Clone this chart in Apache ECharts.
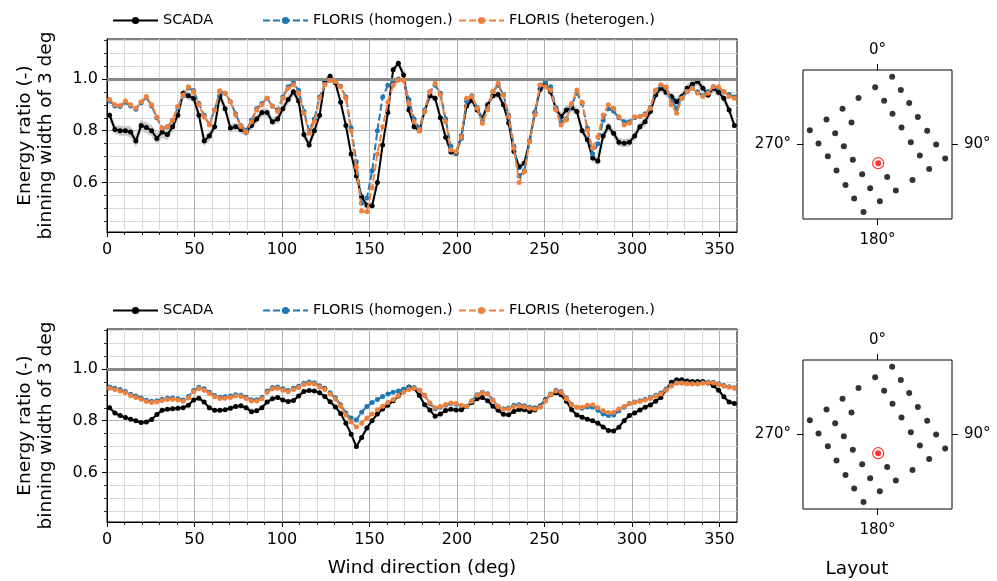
<!DOCTYPE html>
<html><head><meta charset="utf-8">
<script src="https://cdn.jsdelivr.net/npm/echarts@6/dist/echarts.min.js"></script>
<style>html,body{margin:0;padding:0;background:#fff}#c{width:997px;height:581px}</style>
</head><body><div id="c"></div>
<script>
// ---------------- data ----------------
const windDirections = [1.5,4.5,7.5,10.5,13.5,16.5,19.5,22.5,25.5,28.5,31.5,34.5,37.5,40.5,43.5,46.5,49.5,52.5,55.5,58.5,61.5,64.5,67.5,70.5,73.5,76.5,79.5,82.5,85.5,88.5,91.5,94.5,97.5,100.5,103.5,106.5,109.5,112.5,115.5,118.5,121.5,124.5,127.5,130.5,133.5,136.5,139.5,142.5,145.5,148.5,151.5,154.5,157.5,160.5,163.5,166.5,169.5,172.5,175.5,178.5,181.5,184.5,187.5,190.5,193.5,196.5,199.5,202.5,205.5,208.5,211.5,214.5,217.5,220.5,223.5,226.5,229.5,232.5,235.5,238.5,241.5,244.5,247.5,250.5,253.5,256.5,259.5,262.5,265.5,268.5,271.5,274.5,277.5,280.5,283.5,286.5,289.5,292.5,295.5,298.5,301.5,304.5,307.5,310.5,313.5,316.5,319.5,322.5,325.5,328.5,331.5,334.5,337.5,340.5,343.5,346.5,349.5,352.5,355.5,358.5];

const scadaTop = [0.86,0.805,0.80,0.80,0.795,0.76,0.82,0.812,0.80,0.77,
0.795,0.785,0.815,0.86,0.945,0.935,0.925,0.86,0.76,0.78,
0.815,0.935,0.885,0.81,0.815,0.805,0.795,0.82,0.845,0.87,
0.87,0.835,0.845,0.885,0.92,0.95,0.915,0.785,0.745,0.80,
0.86,0.99,1.01,0.985,0.91,0.82,0.71,0.625,0.545,0.512,
0.51,0.60,0.745,0.87,1.035,1.06,1.015,0.88,0.815,0.80,
0.875,0.935,0.925,0.85,0.775,0.718,0.713,0.78,0.895,0.918,
0.88,0.848,0.90,0.935,0.94,0.90,0.83,0.72,0.66,0.675,
0.76,0.87,0.96,0.977,0.95,0.885,0.854,0.88,0.889,0.874,
0.80,0.765,0.695,0.683,0.78,0.815,0.79,0.755,0.752,0.755,
0.78,0.815,0.835,0.874,0.938,0.964,0.948,0.932,0.912,0.932,
0.964,0.979,0.99,0.964,0.938,0.964,0.948,0.925,0.88,0.82];
const scadaTopSpread = [0.015,0.015,0.018,0.018,0.02,0.02,0.02,0.02,0.02,0.02,
0.02,0.02,0.018,0.015,0.015,0.015,0.015,0.015,0.018,0.018,
0.015,0.015,0.015,0.015,0.015,0.015,0.015,0.015,0.015,0.015,
0.015,0.015,0.015,0.015,0.015,0.015,0.015,0.015,0.015,0.015,
0.012,0.012,0.012,0.012,0.012,0.012,0.012,0.012,0.012,0.012,
0.012,0.012,0.012,0.012,0.012,0.012,0.012,0.012,0.012,0.012,
0.012,0.012,0.012,0.012,0.012,0.012,0.012,0.012,0.012,0.012,
0.012,0.012,0.012,0.012,0.012,0.012,0.012,0.012,0.012,0.012,
0.012,0.012,0.012,0.012,0.012,0.012,0.015,0.015,0.015,0.015,
0.015,0.015,0.015,0.015,0.015,0.015,0.015,0.015,0.015,0.015,
0.015,0.015,0.015,0.015,0.015,0.015,0.015,0.015,0.015,0.015,
0.015,0.015,0.015,0.015,0.015,0.015,0.015,0.015,0.015,0.015];
const florisHomTop = [0.915,0.895,0.893,0.91,0.895,0.883,0.908,0.928,0.895,0.85,
0.81,0.815,0.84,0.89,0.935,0.965,0.955,0.905,0.86,0.825,
0.88,0.95,0.945,0.912,0.865,0.82,0.80,0.84,0.885,0.905,
0.925,0.895,0.88,0.93,0.97,0.985,0.955,0.875,0.80,0.845,
0.93,0.98,0.995,0.99,0.972,0.93,0.81,0.68,0.52,0.54,
0.645,0.80,0.93,0.975,0.99,1.0,0.995,0.92,0.845,0.81,
0.88,0.95,0.975,0.945,0.845,0.74,0.715,0.77,0.915,0.935,
0.89,0.84,0.885,0.95,0.975,0.94,0.86,0.74,0.625,0.645,
0.76,0.87,0.975,0.99,0.97,0.89,0.835,0.845,0.90,0.945,
0.905,0.81,0.71,0.75,0.84,0.885,0.875,0.85,0.835,0.835,
0.85,0.855,0.865,0.89,0.955,0.975,0.965,0.915,0.885,0.925,
0.95,0.965,0.95,0.935,0.95,0.97,0.965,0.95,0.94,0.93];
const florisHetTop = [0.92,0.90,0.897,0.915,0.90,0.887,0.912,0.932,0.90,0.854,
0.81,0.816,0.841,0.893,0.938,0.97,0.951,0.90,0.854,0.822,
0.88,0.954,0.945,0.912,0.861,0.816,0.794,0.835,0.88,0.90,
0.925,0.893,0.874,0.925,0.964,0.977,0.945,0.867,0.79,0.835,
0.925,0.977,0.995,0.99,0.97,0.925,0.80,0.66,0.49,0.487,
0.58,0.71,0.815,0.91,0.975,0.995,0.995,0.905,0.835,0.80,
0.874,0.951,0.983,0.938,0.835,0.726,0.719,0.777,0.925,0.932,
0.887,0.829,0.88,0.951,0.983,0.938,0.854,0.732,0.60,0.642,
0.758,0.861,0.977,0.97,0.957,0.88,0.822,0.841,0.906,0.957,
0.91,0.803,0.732,0.777,0.861,0.90,0.887,0.854,0.822,0.829,
0.854,0.854,0.861,0.887,0.957,0.977,0.97,0.90,0.867,0.925,
0.951,0.964,0.945,0.932,0.945,0.97,0.97,0.951,0.932,0.925];

const scadaBottom = [0.85,0.83,0.82,0.812,0.806,0.80,0.793,0.795,0.805,0.824,
0.84,0.844,0.846,0.848,0.85,0.86,0.88,0.887,0.872,0.85,
0.84,0.84,0.842,0.848,0.855,0.858,0.85,0.835,0.838,0.85,
0.872,0.885,0.89,0.88,0.874,0.878,0.895,0.913,0.917,0.915,
0.908,0.893,0.873,0.853,0.828,0.79,0.748,0.70,0.735,0.772,
0.80,0.826,0.845,0.86,0.877,0.895,0.913,0.93,0.925,0.897,
0.862,0.841,0.817,0.826,0.839,0.844,0.841,0.842,0.855,0.87,
0.885,0.89,0.877,0.856,0.84,0.825,0.823,0.836,0.843,0.842,
0.836,0.841,0.857,0.881,0.90,0.908,0.90,0.875,0.842,0.822,
0.813,0.806,0.80,0.79,0.776,0.762,0.76,0.775,0.80,0.82,
0.83,0.841,0.852,0.861,0.875,0.89,0.92,0.948,0.958,0.958,
0.953,0.951,0.951,0.951,0.946,0.935,0.918,0.892,0.872,0.866];
const scadaBottomSpread = [0.006,0.006,0.006,0.006,0.006,0.006,0.006,0.006,0.006,0.006,
0.006,0.006,0.006,0.006,0.006,0.006,0.006,0.006,0.006,0.006,
0.006,0.006,0.006,0.006,0.006,0.006,0.006,0.006,0.006,0.006,
0.006,0.006,0.006,0.006,0.006,0.006,0.006,0.006,0.006,0.006,
0.006,0.006,0.006,0.006,0.006,0.006,0.006,0.006,0.006,0.006,
0.006,0.006,0.006,0.006,0.006,0.006,0.006,0.006,0.006,0.006,
0.006,0.006,0.006,0.006,0.006,0.006,0.006,0.006,0.006,0.006,
0.006,0.006,0.006,0.006,0.006,0.006,0.006,0.006,0.006,0.006,
0.006,0.006,0.006,0.006,0.006,0.006,0.006,0.006,0.006,0.006,
0.006,0.006,0.006,0.006,0.006,0.006,0.006,0.006,0.006,0.006,
0.006,0.006,0.006,0.006,0.006,0.006,0.006,0.006,0.006,0.006,
0.006,0.006,0.006,0.006,0.006,0.006,0.006,0.006,0.006,0.006];
const florisHomBottom = [0.93,0.925,0.92,0.913,0.902,0.895,0.888,0.879,0.875,0.877,
0.883,0.887,0.888,0.885,0.88,0.893,0.917,0.929,0.923,0.91,
0.897,0.891,0.892,0.895,0.90,0.898,0.891,0.881,0.881,0.89,
0.915,0.928,0.93,0.923,0.917,0.925,0.933,0.945,0.949,0.947,
0.935,0.925,0.908,0.889,0.862,0.83,0.81,0.803,0.833,0.855,
0.87,0.882,0.893,0.903,0.91,0.915,0.922,0.928,0.928,0.918,
0.898,0.865,0.846,0.852,0.86,0.866,0.864,0.858,0.855,0.877,
0.90,0.91,0.904,0.88,0.856,0.846,0.849,0.86,0.862,0.858,
0.852,0.85,0.855,0.878,0.903,0.918,0.913,0.888,0.864,0.852,
0.848,0.853,0.852,0.84,0.826,0.82,0.822,0.838,0.852,0.866,
0.872,0.877,0.883,0.89,0.898,0.907,0.922,0.937,0.947,0.947,
0.945,0.944,0.944,0.947,0.949,0.948,0.943,0.936,0.931,0.927];
const florisHetBottom = [0.925,0.92,0.915,0.908,0.897,0.89,0.883,0.874,0.87,0.872,
0.878,0.882,0.883,0.88,0.875,0.888,0.912,0.924,0.918,0.905,
0.892,0.886,0.887,0.89,0.895,0.893,0.886,0.876,0.876,0.885,
0.91,0.923,0.925,0.918,0.912,0.92,0.928,0.94,0.944,0.942,
0.93,0.92,0.903,0.884,0.857,0.822,0.795,0.776,0.79,0.81,
0.826,0.842,0.856,0.87,0.882,0.897,0.91,0.92,0.925,0.918,
0.898,0.868,0.85,0.855,0.863,0.868,0.866,0.86,0.856,0.875,
0.898,0.908,0.902,0.878,0.855,0.843,0.845,0.855,0.857,0.853,
0.848,0.845,0.852,0.875,0.90,0.915,0.91,0.885,0.862,0.852,
0.852,0.86,0.862,0.85,0.838,0.832,0.833,0.845,0.855,0.866,
0.87,0.874,0.88,0.886,0.895,0.903,0.918,0.934,0.945,0.945,
0.943,0.942,0.942,0.945,0.947,0.946,0.94,0.933,0.929,0.925];

// axis ticks
const xMajorTicks = [0,50,100,150,200,250,300,350];
const xMinorTicks = [10,20,30,40,60,70,80,90,110,120,130,140,160,170,180,190,210,220,230,240,260,270,280,290,310,320,330,340];
const yMajorTicks = [0.6,0.8,1.0];
const yMinorTicks = [0.45,0.5,0.55,0.65,0.7,0.75,0.85,0.9,0.95,1.05,1.1,1.15];
const referenceLevel = 1.0;

// wind farm layout (relative positions) and the turbine of interest
const layoutX = [44,-7,70,-57,20,95,-105,45,121,-153,-78,72,149,-203,-127,100,176,-177,-101,127,203,-149,-74,155,-123,-46,29,105,-96,-22,55,-70,7,-42];
const layoutY = [203,171,163,139,131,124,107,92,82,75,66,51,41,43,34,7,0,3,-5,-33,-42,-35,-46,-73,-78,-89,-97,-106,-121,-131,-138,-162,-170,-202];
const targetX = [2];
const targetY = [-56];
const compassLabels = {top:'0°', right:'90°', bottom:'180°', left:'270°'};

const seriesNames = ['SCADA','FLORIS (homogen.)','FLORIS (heterogen.)'];

// ---------------- chart ----------------
const FONT = 'DejaVu Sans';
const chart = echarts.init(document.getElementById('c'), null, {renderer:'canvas'});
const pairs = ys => windDirections.map((x,i)=>[x, ys[i]]);

const mainGrids = [
  {left:107, top:39, width:630, height:193},
  {left:107, top:329, width:630, height:193}
];
const layoutGrids = [
  {left:803, top:70, width:149, height:149},
  {left:803, top:360, width:149, height:149}
];
const grid = [...mainGrids, ...layoutGrids].map(g => Object.assign({show:true, borderColor:'#000', borderWidth:1}, g));

const xAxis = [], yAxis = [];
[0,1].forEach(g => {
  xAxis.push({gridIndex:g, type:'value', min:0, max:360, position:'bottom',
    axisLine:{show:true, onZero:false, lineStyle:{color:'#000', width:1}},
    axisTick:{show:true, customValues:xMajorTicks, length:5, lineStyle:{color:'#000', width:1}},
    axisLabel:{customValues:xMajorTicks, color:'#000', fontSize:16, fontFamily:FONT, margin:10},
    splitLine:{show:true, lineStyle:{color:'#b0b0b0', width:1}},
    name: g===1 ? 'Wind direction (deg)' : '', nameLocation:'middle', nameGap:37,
    nameTextStyle:{color:'#000', fontSize:18.5, fontFamily:FONT}
  });
  xAxis.push({gridIndex:g, type:'value', min:0, max:360, position:'bottom',
    axisLine:{show:false, onZero:false}, axisLabel:{show:false},
    axisTick:{show:true, customValues:xMinorTicks, length:3, lineStyle:{color:'#000', width:0.8}},
    splitLine:{show:true, lineStyle:{color:'#d8d8d8', width:1}}
  });
  yAxis.push({gridIndex:g, type:'value', min:0.409, max:1.154, position:'left',
    axisLine:{show:true, onZero:false, lineStyle:{color:'#000', width:1}},
    axisTick:{show:true, customValues:yMajorTicks, length:5, lineStyle:{color:'#000', width:1}},
    axisLabel:{customValues:yMajorTicks, color:'#000', fontSize:16, fontFamily:FONT, margin:9, formatter:v=>v.toFixed(1)},
    splitLine:{show:true, lineStyle:{color:'#b0b0b0', width:1}},
    name:'Energy ratio (-)\nbinning width of 3 deg', nameLocation:'middle', nameGap:50, nameRotate:90,
    nameTextStyle:{color:'#000', fontSize:18.5, fontFamily:FONT, lineHeight:21}
  });
  yAxis.push({gridIndex:g, type:'value', min:0.409, max:1.154, position:'left',
    axisLine:{show:false, onZero:false}, axisLabel:{show:false},
    axisTick:{show:true, customValues:yMinorTicks, length:3, lineStyle:{color:'#000', width:0.8}},
    splitLine:{show:true, lineStyle:{color:'#d8d8d8', width:1}}
  });
});
const compassAxisX = (g, pos, label) => ({gridIndex:g, type:'value', min:-223.5, max:223.5, position:pos,
  axisLine:{show:false, onZero:false}, splitLine:{show:false},
  axisTick:{show:true, customValues:[0], length:6, lineStyle:{color:'#000', width:1}},
  axisLabel:{customValues:[0], formatter:()=>label, color:'#000', fontSize:15, fontFamily:FONT, margin:pos==='bottom'?14:12}
});
const compassAxisY = (g, pos, label) => ({gridIndex:g, type:'value', min:-223, max:223, position:pos,
  axisLine:{show:false, onZero:false}, splitLine:{show:false},
  axisTick:{show:true, customValues:[0], length:6, lineStyle:{color:'#000', width:1}},
  axisLabel:{customValues:[0], formatter:()=>label, color:'#000', fontSize:15, fontFamily:FONT, margin:12}
});
[2,3].forEach(g => {
  xAxis.push(compassAxisX(g,'bottom',compassLabels.bottom));
  xAxis.push(compassAxisX(g,'top',compassLabels.top));
  yAxis.push(compassAxisY(g,'left',compassLabels.left));
  yAxis.push(compassAxisY(g,'right',compassLabels.right));
});

const series = [];
const panels = [
  {g:0, scada:scadaTop, spread:scadaTopSpread, hom:florisHomTop, het:florisHetTop},
  {g:1, scada:scadaBottom, spread:scadaBottomSpread, hom:florisHomBottom, het:florisHetBottom}
];
panels.forEach(p => {
  const xi = p.g*2, yi = p.g*2;
  // reference line at 1.0
  series.push({type:'line', xAxisIndex:xi, yAxisIndex:yi, data:[], silent:true, z:1,
    markLine:{silent:true, symbol:'none', label:{show:false}, animation:false,
      lineStyle:{color:'#888888', width:3, type:'solid'}, data:[{yAxis:referenceLevel}]}});
  // uncertainty band around SCADA (segment by segment)
  const bandData = windDirections.map((x,i)=>[x, p.scada[i]-p.spread[i], p.scada[i]+p.spread[i]]);
  series.push({type:'custom', coordinateSystem:'cartesian2d', xAxisIndex:xi, yAxisIndex:yi, silent:true, z:2,
    data:bandData,
    renderItem:(params, api) => {
      const i = params.dataIndex;
      if (i >= bandData.length-1) return null;
      const a = bandData[i], b = bandData[i+1];
      const pts = [api.coord([a[0],a[2]]), api.coord([b[0],b[2]]), api.coord([b[0],b[1]]), api.coord([a[0],a[1]])];
      return {type:'polygon', shape:{points:pts}, style:{fill:'#c9c9c9', stroke:'#c9c9c9', lineWidth:0.6}};
    }});
  series.push({name:seriesNames[0], type:'line', xAxisIndex:xi, yAxisIndex:yi, z:3,
    symbol:'circle', symbolSize:5, showAllSymbol:true,
    lineStyle:{color:'#000', width:2}, itemStyle:{color:'#000'}, data:pairs(p.scada)});
  series.push({name:seriesNames[1], type:'line', xAxisIndex:xi, yAxisIndex:yi, z:4,
    symbol:'circle', symbolSize:5, showAllSymbol:true,
    lineStyle:{color:'#1f77b4', width:2, type:[7,3]}, itemStyle:{color:'#1f77b4'}, data:pairs(p.hom)});
  series.push({name:seriesNames[2], type:'line', xAxisIndex:xi, yAxisIndex:yi, z:5,
    symbol:'circle', symbolSize:5, showAllSymbol:true,
    lineStyle:{color:'#f0813c', width:2, type:[7,3]}, itemStyle:{color:'#f0813c'}, data:pairs(p.het)});
});
[2,3].forEach(g => {
  const xi = 4 + (g-2)*2, yi = 4 + (g-2)*2;
  series.push({type:'scatter', xAxisIndex:xi, yAxisIndex:yi, symbol:'circle', symbolSize:6, silent:true,
    itemStyle:{color:'#000'}, data:layoutX.map((x,i)=>[x, layoutY[i]])});
  series.push({type:'scatter', xAxisIndex:xi, yAxisIndex:yi, symbol:'circle', symbolSize:11, silent:true, z:3,
    itemStyle:{color:'#fff', borderColor:'#ff0000', borderWidth:1.2}, data:targetX.map((x,i)=>[x, targetY[i]])});
  series.push({type:'scatter', xAxisIndex:xi, yAxisIndex:yi, symbol:'circle', symbolSize:6, silent:true, z:4,
    itemStyle:{color:'#ff0000'}, data:targetX.map((x,i)=>[x, targetY[i]])});
});

const legendLefts = [112, 262, 458];
const legends = [];
[13, 303].forEach(top => seriesNames.forEach((n,i) => legends.push({
  data:[n], left:legendLefts[i], top, padding:0, itemWidth:45, itemHeight:9,
  textStyle:{color:'#000', fontSize:14.5, fontFamily:FONT}, selectedMode:false
})));

chart.setOption({
  animation:false,
  grid, xAxis, yAxis, series,
  legend:legends,
  graphic:[{type:'text', x:857, y:569, style:{text:'Layout', fill:'#000', fontSize:18.5, fontFamily:FONT, align:'center', verticalAlign:'middle'}}]
});
</script>
</body></html>
